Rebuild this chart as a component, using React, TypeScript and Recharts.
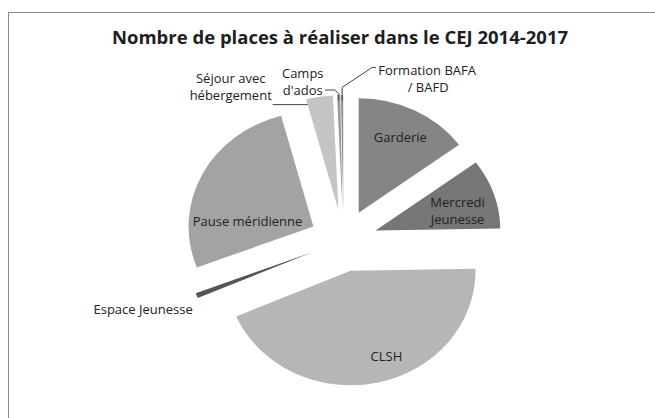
import { PieChart, Pie, Cell, Sector } from 'recharts';

// categories in Excel order (clockwise from 12 o'clock)
const categories = [
  'Garderie',
  'Mercredi Jeunesse',
  'CLSH',
  'Espace Jeunesse',
  'Pause méridienne',
  'Séjour avec hébergement',
  "Camps d'ados",
  'Formation BAFA / BAFD',
];
// estimated number of places
const places = [107, 71, 315, 5, 192, 25, 3, 2];
const sliceColors = ['#858585', '#767676', '#b6b6b6', '#555555', '#a3a3a3', '#c4c4c4', '#9a9a9a', '#8c8c8c'];

const data = categories.map((name, i) => ({ name, value: places[i] }));

const W = 655;
const H = 418;
const CX = 338.5;
const CY = 235.5;
const R = 114.5;
const EXPLODE = 31;
const SX = 1.09; // the scanned chart is a little wider than tall
const RAD = Math.PI / 180;
const FONT = '"Open Sans", "DejaVu Sans", sans-serif';
const LBL = 13;
const LH = 17;

const polar = (cx: number, cy: number, r: number, a: number) => ({
  x: cx + r * Math.cos(-a * RAD),
  y: cy + r * Math.sin(-a * RAD),
});
const stretch = (cx: number, p: { x: number; y: number }) => ({ x: cx + (p.x - cx) * SX, y: p.y });

// centre of a slice once pushed out along its mid angle
const explodedCentre = (cx: number, cy: number, mid: number) => polar(cx, cy, EXPLODE, mid);

const ExplodedSector = (props: any) => {
  const c = explodedCentre(props.cx, props.cy, props.midAngle);
  return (
    <g transform={`translate(${props.cx},0) scale(${SX},1) translate(${-props.cx},0)`}>
      <Sector {...props} cx={c.x} cy={c.y} stroke="none" />
    </g>
  );
};

const txt = { fontFamily: FONT, fontSize: LBL, fill: '#222' };

// two-line label as a single text element
const Lines = ({ x, y, lines, dx = [] }: { x: number; y: number; lines: string[]; dx?: number[] }) => (
  <text x={x} y={y} textAnchor="middle" dominantBaseline="central" {...txt}>
    {lines.map((l, j) => (
      <tspan key={j} x={x + (dx[j] || 0)} dy={j === 0 ? 0 : LH}>{l}</tspan>
    ))}
  </text>
);

// inside labels: radius factor and angle tweak relative to the slice mid angle
const inside: Record<number, { k: number; da: number; lines: string[] }> = {
  0: { k: 0.74, da: 0, lines: ['Garderie'] },
  1: { k: 0.68, da: -4, lines: ['Mercredi', 'Jeunesse'] },
  2: { k: 0.8, da: 8.75, lines: ['CLSH'] },
  4: { k: 0.53, da: 22, lines: ['Pause méridienne'] },
};

const renderLabel = (p: any) => {
  const { cx, cy, midAngle, outerRadius, index } = p;
  const c = explodedCentre(cx, cy, midAngle);
  if (inside[index]) {
    const s = inside[index];
    const pt = stretch(cx, polar(c.x, c.y, outerRadius * s.k, midAngle + s.da));
    const off = ((s.lines.length - 1) * LH) / 2;
    return <Lines key={`lbl-${index}`} x={pt.x} y={pt.y - off} lines={s.lines} />;
  }
  if (index === 3) {
    const pt = stretch(cx, polar(c.x, c.y, outerRadius * 1.077, midAngle + 5));
    return (
      <text key="lbl-3" x={pt.x} y={pt.y} textAnchor="end" dominantBaseline="central" {...txt}>
        {categories[3]}
      </text>
    );
  }
  const a = stretch(cx, polar(c.x, c.y, outerRadius * (index === 5 ? 0.93 : 0.97), midAngle));
  const line = { stroke: '#444', strokeWidth: 1, fill: 'none' };
  if (index === 5) {
    return (
      <g key="lbl-5">
        <path d={`M${a.x - 13},${a.y} L${a.x - 48},${a.y}`} {...line} />
        <Lines x={a.x - 90} y={a.y - 26.5} lines={['Séjour avec', 'hébergement']} />
      </g>
    );
  }
  if (index === 6) {
    return (
      <g key="lbl-6">
        <path d={`M${a.x},${a.y + 2} L${a.x},${a.y - 5} L${a.x - 4},${a.y - 8.5} L${a.x - 14},${a.y - 8.5}`} {...line} />
        <Lines x={a.x - 36} y={a.y - 25.5} lines={['Camps', "d'ados"]} />
      </g>
    );
  }
  return (
    <g key="lbl-7">
      <path d={`M${a.x},${a.y + 2} L${a.x},${a.y - 11} L${a.x + 30},${a.y - 31} L${a.x + 34},${a.y - 31}`} {...line} />
      <Lines x={a.x + 85} y={a.y - 28.5} lines={['Formation BAFA', '/ BAFD']} dx={[0, 1]} />
    </g>
  );
};

export default function App() {
  return (
    <div style={{ position: 'absolute', left: 0, top: 0, width: W, height: H, background: '#fff' }}>
      <div
        style={{
          position: 'absolute', left: 8, top: 12, width: W - 8, height: H - 12,
          borderTop: '1px solid #8a8a8a', borderLeft: '1px solid #8a8a8a',
        }}
      />
      <PieChart width={W} height={H} style={{ position: 'absolute', left: 0, top: 0 }}>
        <text x={340} y={36} textAnchor="middle" dominantBaseline="central"
              style={{ fontFamily: FONT, fontSize: 18.5, fontWeight: 700, fill: '#1e1e1e' }}>
          Nombre de places à réaliser dans le CEJ 2014-2017
        </text>
        <Pie
          data={data}
          dataKey="value"
          nameKey="name"
          cx={CX}
          cy={CY}
          outerRadius={R}
          startAngle={90}
          endAngle={-270}
          stroke="none"
          shape={ExplodedSector}
          label={renderLabel}
          labelLine={false}
          isAnimationActive={false}
        >
          {data.map((d, i) => <Cell key={d.name} fill={sliceColors[i]} />)}
        </Pie>
      </PieChart>
    </div>
  );
}
